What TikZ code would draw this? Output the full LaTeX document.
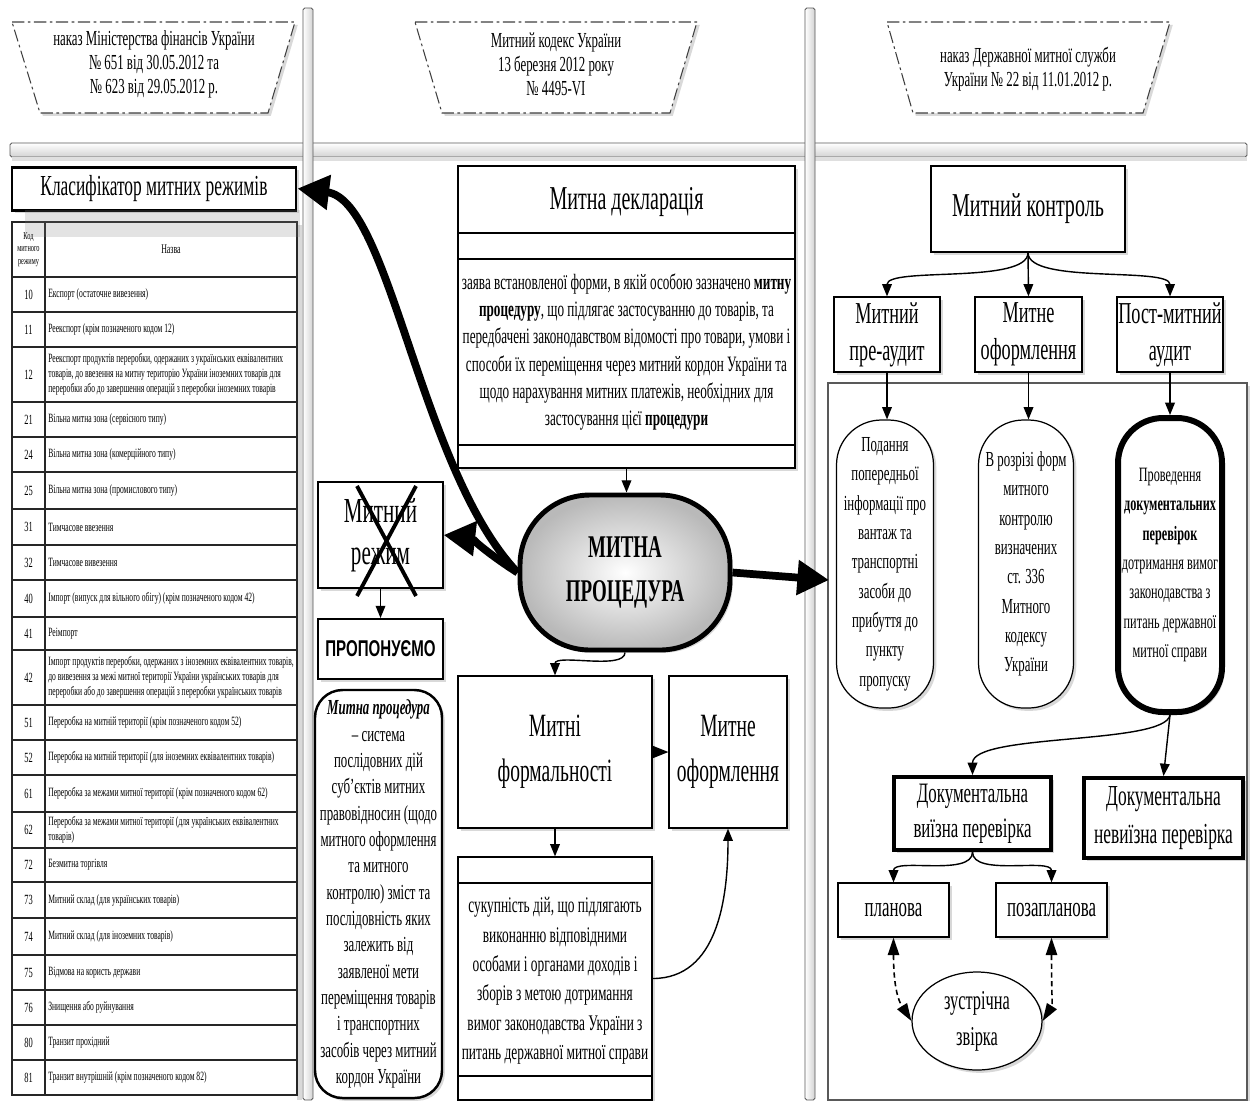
\documentclass[tikz,border=0pt]{standalone}
\usepackage{fontspec}
\setmainfont{Liberation Serif}[FakeStretch=0.6]
\newfontfamily\propfont{Liberation Sans}[FakeStretch=0.66]
\usetikzlibrary{arrows.meta,shadows,shapes.geometric}
\newcommand\trow[4]{%
  \draw[tl] (12,#1) rectangle (297,#2) (45,#1) -- (45,#2);
  \node[ct] (c#3) at (28.5,{(#1+#2)/2}) {#3};
  \node[rt] (n#3) at (48,{(#1+#2)/2}) {#4};}
\tikzset{
  sz/.style 2 args={minimum width=#1*0.02cm,minimum height=#2*0.02cm},
  shd/.style={drop shadow={shadow xshift=1.6pt,shadow yshift=-1.6pt,opacity=0.3}},
  bx/.style={draw,line width=0.7pt,fill=white,inner sep=0pt,align=center,shd},
  bar/.style={draw=gray!70!black,line width=0.5pt,rounded corners=1pt},
  hdrbox/.style={draw=black!75,line width=0.6pt,dash pattern=on 7pt off 2pt on 1.5pt off 2pt,fill=white,shd},
  hdr/.style={align=center,font=\fontsize{12.2}{13.6}\selectfont},
  tl/.style={draw=black!85,line width=0.7pt},
  rt/.style={font=\fontsize{7.2}{8.5}\selectfont,align=left,anchor=west,inner sep=0pt},
  ct/.style={font=\fontsize{8}{9}\selectfont,inner sep=0pt},
  arr/.style={line width=0.8pt,-{Triangle[length=7pt,width=5.5pt]}},
  bigarr/.style={line width=4.4pt,-{Triangle[length=18pt,width=19pt]}},
  darr/.style={line width=0.9pt,dash pattern=on 3pt off 2pt,{Triangle[length=10pt,width=6.5pt]}-{Triangle[length=10pt,width=6.5pt]}},
  ov/.style={bx,rounded corners=0.9cm,font=\fontsize{12.2}{16.7}\selectfont},
}
\begin{document}
\begin{tikzpicture}[x=0.02cm,y=-0.02cm]
\useasboundingbox (0,0) rectangle (1250,1100);

% separator bars
\draw[bar,top color=white,bottom color=gray!35] (10,143) rectangle (1247,157);
\fill[gray!25] (12,157) rectangle (1247,161);
\draw[bar,left color=white,right color=gray!35] (303,8) rectangle (313,1100);
\draw[bar,left color=white,right color=gray!35] (805,8) rectangle (815,1100);

% headers
\draw[hdrbox] (12,22) -- (295,22) -- (268,113) -- (40,113) -- cycle;
\node[hdr] (h1) at (154,64) {наказ Міністерства фінансів України\\№ 651 від 30.05.2012 та\\№ 623 від 29.05.2012 р.};
\draw[hdrbox] (415,22) -- (697,22) -- (670,113) -- (442,113) -- cycle;
\node[hdr] (h2) at (556,64) {Митний кодекс України\\13 березня 2012 року\\№ 4495-VI};
\draw[hdrbox] (887,22) -- (1170,22) -- (1143,113) -- (913,113) -- cycle;
\node[hdr] (h3) at (1028,69) {наказ Державної митної служби\\України № 22 від 11.01.2012 р.};

% left column: classifier
\node[bx,sz={284}{43},line width=1.7pt,font=\fontsize{16.5}{18}\selectfont] (klas) at (154,188.5) {Класифікатор митних режимів};
\fill[gray!30] (297,225) rectangle (302,1100);
\draw[tl] (12,222) rectangle (297,277) (45,222) -- (45,277);
\node[inner sep=0pt,align=center,font=\fontsize{6}{7}\selectfont] (ch) at (28.5,249.5) {Код\\митного\\режиму};
\node[inner sep=0pt,font=\fontsize{7.5}{9}\selectfont] (nh) at (171,249.5) {Назва};
\fill[gray,opacity=0.22] (25,210) rectangle (300,237);
\trow{277}{312}{10}{Експорт (остаточне вивезення)}
\trow{312}{347}{11}{Реекспорт (крім позначеного кодом 12)}
\trow{347}{402}{12}{Реекспорт продуктів переробки, одержаних з українських еквівалентних\\товарів, до ввезення на митну територію України іноземних товарів для\\переробки або до завершення операцій з переробки іноземних товарів}
\trow{402}{437}{21}{Вільна митна зона (сервісного типу)}
\trow{437}{472}{24}{Вільна митна зона (комерційного типу)}
\trow{472}{509}{25}{Вільна митна зона (промислового типу)}
\trow{509}{545}{31}{Тимчасове ввезення}
\trow{545}{580}{32}{Тимчасове вивезення}
\trow{580}{617}{40}{Імпорт (випуск для вільного обігу) (крім позначеного кодом 42)}
\trow{617}{650}{41}{Реімпорт}
\trow{650}{705}{42}{Імпорт продуктів переробки, одержаних з іноземних еквівалентних товарів,\\до вивезення за межі митної території України українських товарів для\\переробки або до завершення операцій з переробки українських товарів}
\trow{705}{740}{51}{Переробка на митній території (крім позначеного кодом 52)}
\trow{740}{775}{52}{Переробка на митній території (для іноземних еквівалентних товарів)}
\trow{775}{812}{61}{Переробка за межами митної території (крім позначеного кодом 62)}
\trow{812}{848}{62}{Переробка за межами митної території (для українських еквівалентних\\товарів)}
\trow{848}{882}{72}{Безмитна торгівля}
\trow{882}{918}{73}{Митний склад (для українських товарів)}
\trow{918}{955}{74}{Митний склад (для іноземних товарів)}
\trow{955}{990}{75}{Відмова на користь держави}
\trow{990}{1025}{76}{Знищення або руйнування}
\trow{1025}{1060}{80}{Транзит прохідний}
\trow{1060}{1095}{81}{Транзит внутрішній (крім позначеного кодом 82)}

% centre column
\node[bx,sz={337}{302}] (decl) at (626.5,317) {};
\draw[line width=0.7pt] (458,233) -- (795,233) (458,259) -- (795,259) (458,445) -- (795,445);
\node[font=\fontsize{19}{22}\selectfont] (declt) at (626.5,202) {Митна декларація};
\node[align=center,font=\fontsize{12.5}{15.4}\selectfont] (declb) at (626.5,352) {заява встановленої форми, в якій особою зазначено \textbf{митну}\\\textbf{процедуру}, що підлягає застосуванню до товарів, та\\передбачені законодавством відомості про товари, умови і\\способи їх переміщення через митний кордон України та\\щодо нарахування митних платежів, необхідних для\\застосування цієї \textbf{процедури}};

\node[draw,line width=2.8pt,rounded corners=1.4cm,sz={210}{155},inner color=white,outer color=gray!55,align=center,font=\bfseries\fontsize{18}{25.5}\selectfont,shd] (proc) at (625,572.5) {МИТНА\\ПРОЦЕДУРА};

\node[bx,sz={125}{106},font=\fontsize{20}{24}\selectfont] (rezh) at (380.5,535) {Митний\\режим};
\draw[line width=2.2pt] (357,486) -- (416,596) (416,486) -- (357,596);
\node[bx,sz={125}{60},line width=1.1pt,font=\propfont\bfseries\fontsize{13}{15}\selectfont] (prop) at (380.5,649) {ПРОПОНУЄМО};
\node[bx,sz={127}{408},rounded corners=0.55cm,line width=1.4pt,font=\fontsize{12.2}{15}\selectfont] (mproc) at (378.5,894) {\textbf{\textit{Митна процедура}}\\– система\\послідовних дій\\суб’єктів митних\\правовідносин (щодо\\митного оформлення\\та митного\\контролю) зміст та\\послідовність яких\\залежить від\\заявленої мети\\переміщення товарів\\і транспортних\\засобів через митний\\кордон України};

\node[bx,sz={194}{152},font=\fontsize{18.5}{25.5}\selectfont] (form) at (555,752) {Митні\\формальності};
\node[bx,sz={118}{152},font=\fontsize{18.5}{25.5}\selectfont] (oform) at (728,752) {Митне\\оформлення};
\node[bx,sz={194}{243}] (def) at (555,978.5) {};
\draw[line width=0.7pt] (458,883) -- (652,883) (458,1076) -- (652,1076);
\node[align=center,font=\fontsize{12.7}{16.7}\selectfont] (deft) at (555,981) {сукупність дій, що підлягають\\виконанню відповідними\\особами і органами доходів і\\зборів з метою дотримання\\вимог законодавства України з\\питань державної митної справи};

% right column
\node[draw=gray!70!black,line width=0.6pt,sz={419}{717},fill=white,shd] (frame) at (1037.5,741.5) {};
\coordinate (frin) at (829,580);
\node[bx,sz={194}{86},font=\fontsize{19}{22}\selectfont] (mk) at (1028,209) {Митний контроль};
\node[bx,sz={106}{75},font=\fontsize{17.3}{21}\selectfont] (pa) at (887,334.5) {Митний\\пре-аудит};
\node[bx,sz={107}{75},font=\fontsize{17.3}{21}\selectfont] (mo) at (1028.5,334.5) {Митне\\оформлення};
\node[bx,sz={106}{75},font=\fontsize{17.3}{21}\selectfont] (pma) at (1170,334.5) {Пост-митний\\аудит};
\node[ov,sz={97}{288}] (ov1) at (885,564) {Подання\\попередньої\\інформації про\\вантаж та\\транспортні\\засоби до\\прибуття до\\пункту\\пропуску};
\node[ov,sz={95}{288}] (ov2) at (1026,564) {В розрізі форм\\митного\\контролю\\визначених\\ст. 336\\Митного\\кодексу\\України};
\node[ov,sz={104}{294},line width=3.4pt,font=\fontsize{11.6}{16.7}\selectfont] (ov3) at (1170,565) {Проведення\\\textbf{документальних}\\\textbf{перевірок}\\дотримання вимог\\законодавства з\\питань державної\\митної справи};
\node[bx,sz={157}{73},line width=2.3pt,font=\fontsize{16}{20}\selectfont] (vyiz) at (972.5,813.5) {Документальна\\виїзна перевірка};
\node[bx,sz={159}{80},line width=2.3pt,font=\fontsize{16.5}{22}\selectfont] (nevyiz) at (1163.5,818) {Документальна\\невиїзна перевірка};
\node[bx,sz={111}{54},font=\fontsize{16}{19}\selectfont] (plan) at (893.5,910) {планова};
\node[bx,sz={111}{54},font=\fontsize{16}{19}\selectfont] (pozapl) at (1051.5,910) {позапланова};
\node[bx,ellipse,sz={130}{98},font=\fontsize{15.5}{20.5}\selectfont] (zustr) at (977,1021) {зустрічна\\звірка};

% connectors
\draw[arr] (decl.south) -- (decl.south |- proc.north);
\draw[arr] (proc.south) .. controls +(0,18) and +(0,-22) .. (form.north);
\draw[arr,-{Triangle[length=9pt,width=7pt]}] (form.east) -- (oform.west);
\draw[arr] (form.south) -- (def.north);
\draw[arr] (def.east) .. controls +(65,0) and +(0,70) .. (oform.south);
\draw[arr] (rezh.south) -- (prop.north);
\draw[bigarr] (proc.west) .. controls (420,470) and (390,200) .. (klas.east);
\draw[bigarr] (proc.west) .. controls (490,555) and (470,538) .. (rezh.east);
\draw[bigarr] (proc.east) -- (frin);

\draw[arr] (mk.south) .. controls +(0,32) and +(0,-30) .. (pa.north);
\draw[arr] (mk.south) -- (mo.north);
\draw[arr] (mk.south) .. controls +(0,32) and +(0,-30) .. (pma.north);
\draw[arr] (pa.south) -- (pa.south |- ov1.north);
\draw[arr] (mo.south) -- (mo.south |- ov2.north);
\draw[arr] (pma.south) -- (ov3.north);
\draw[arr] (ov3.south) .. controls +(-5,30) and +(0,-42) .. (vyiz.north);
\draw[arr] (ov3.south) -- (nevyiz.north);
\draw[arr] (vyiz.south) .. controls +(0,25) and +(0,-25) .. (plan.north);
\draw[arr] (vyiz.south) .. controls +(0,25) and +(0,-25) .. (pozapl.north);
\draw[darr] (plan.south) .. controls +(0,58) and +(-10,-16) .. (zustr.west);
\draw[darr] (pozapl.south) .. controls +(0,55) and +(10,-16) .. (zustr.east);
\end{tikzpicture}
\end{document}
